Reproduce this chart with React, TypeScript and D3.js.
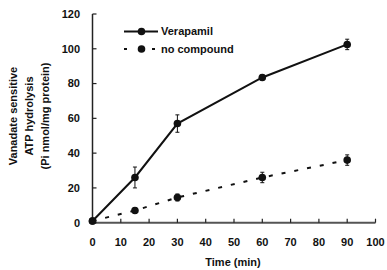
import React from "react";
import * as d3 from "d3";

const times = [0, 15, 30, 60, 90];
const verapamil = [1, 26, 57, 83.5, 102.5];
const verapamilErr = [1, 6, 5, 1.5, 3];
const noCompound = [1, 7, 14.5, 26, 36];
const noCompoundErr = [1, 1.5, 2, 3, 3];
const xTicks = [0, 10, 20, 30, 40, 50, 60, 70, 80, 90, 100];
const yTicks = [0, 20, 40, 60, 80, 100, 120];
const seriesNames = ["Verapamil", "no compound"];
const yLabelLines = ["Vanadate sensitive", "ATP hydrolysis", "(Pi nmol/mg protein)"];

export default function App() {
  const W = 387, H = 270;
  const x = d3.scaleLinear().domain([0, 100]).range([92.5, 375.5]);
  const y = d3.scaleLinear().domain([0, 120]).range([222.7, 14]);
  const line = d3.line<number>().x((_, i) => x(times[i])).y((v) => y(v));
  const font = "Arial, 'Liberation Sans', Helvetica, sans-serif";
  const series = [
    { vals: verapamil, err: verapamilErr, dash: undefined as string | undefined },
    { vals: noCompound, err: noCompoundErr, dash: "4,9" },
  ];
  return (
    <svg width={W} height={H} style={{ position: "absolute", left: 0, top: 0 }} fontFamily={font}>
      <rect width={W} height={H} fill="#fff" />
      <line x1={x(0)} x2={x(0)} y1={y(120)} y2={y(0)} stroke="#222" strokeWidth={1.5} />
      <line x1={x(0)} x2={x(100)} y1={y(0)} y2={y(0)} stroke="#555" strokeWidth={2} />
      {yTicks.map((t) => (
        <g key={"y" + t}>
          <line x1={x(0)} x2={x(0) + 4} y1={y(t)} y2={y(t)} stroke="#222" strokeWidth={1.2} />
          <text x={80} y={y(t)} dy="0.35em" textAnchor="end" fontSize={11} fontWeight="bold" fill="#111">{t}</text>
        </g>
      ))}
      {xTicks.map((t) => (
        <g key={"x" + t}>
          <line x1={x(t)} x2={x(t)} y1={y(0)} y2={y(0) - 4} stroke="#222" strokeWidth={1.2} />
          <text x={x(t)} y={242} dy="0.35em" textAnchor="middle" fontSize={11} fontWeight="bold" fill="#111">{t}</text>
        </g>
      ))}
      <text x={233} y={262} dy="0.35em" textAnchor="middle" fontSize={11} fontWeight="bold" fill="#111">Time (min)</text>
      {yLabelLines.map((s, i) => (
        <text key={s} transform={`translate(${13 + i * 16},116) rotate(-90)`} dy="0.35em" textAnchor="middle" fontSize={11} fontWeight="bold" fill="#111">{s}</text>
      ))}
      {series.map((s, si) => (
        <g key={si}>
          <path d={line(s.vals) || ""} fill="none" stroke="#111" strokeWidth={2} strokeDasharray={s.dash} />
          {s.vals.map((v, i) => (
            <g key={i}>
              <line x1={x(times[i])} x2={x(times[i])} y1={y(v - s.err[i])} y2={y(v + s.err[i])} stroke="#111" strokeWidth={1} />
              <line x1={x(times[i]) - 2} x2={x(times[i]) + 2} y1={y(v + s.err[i])} y2={y(v + s.err[i])} stroke="#111" strokeWidth={1} />
              <line x1={x(times[i]) - 2} x2={x(times[i]) + 2} y1={y(v - s.err[i])} y2={y(v - s.err[i])} stroke="#111" strokeWidth={1} />
              <circle cx={x(times[i])} cy={y(v)} r={3.8} fill="#111" />
            </g>
          ))}
        </g>
      ))}
      {seriesNames.map((n, i) => {
        const ly = 31.5 + i * 17.5;
        return (
          <g key={n}>
            <line x1={124} x2={158} y1={ly} y2={ly} stroke="#111" strokeWidth={2} strokeDasharray={i === 1 ? "3,11" : undefined} />
            <circle cx={141.5} cy={ly} r={3.8} fill="#111" />
            <text x={161} y={ly} dy="0.35em" fontSize={11} fontWeight="bold" fill="#111">{n}</text>
          </g>
        );
      })}
    </svg>
  );
}
